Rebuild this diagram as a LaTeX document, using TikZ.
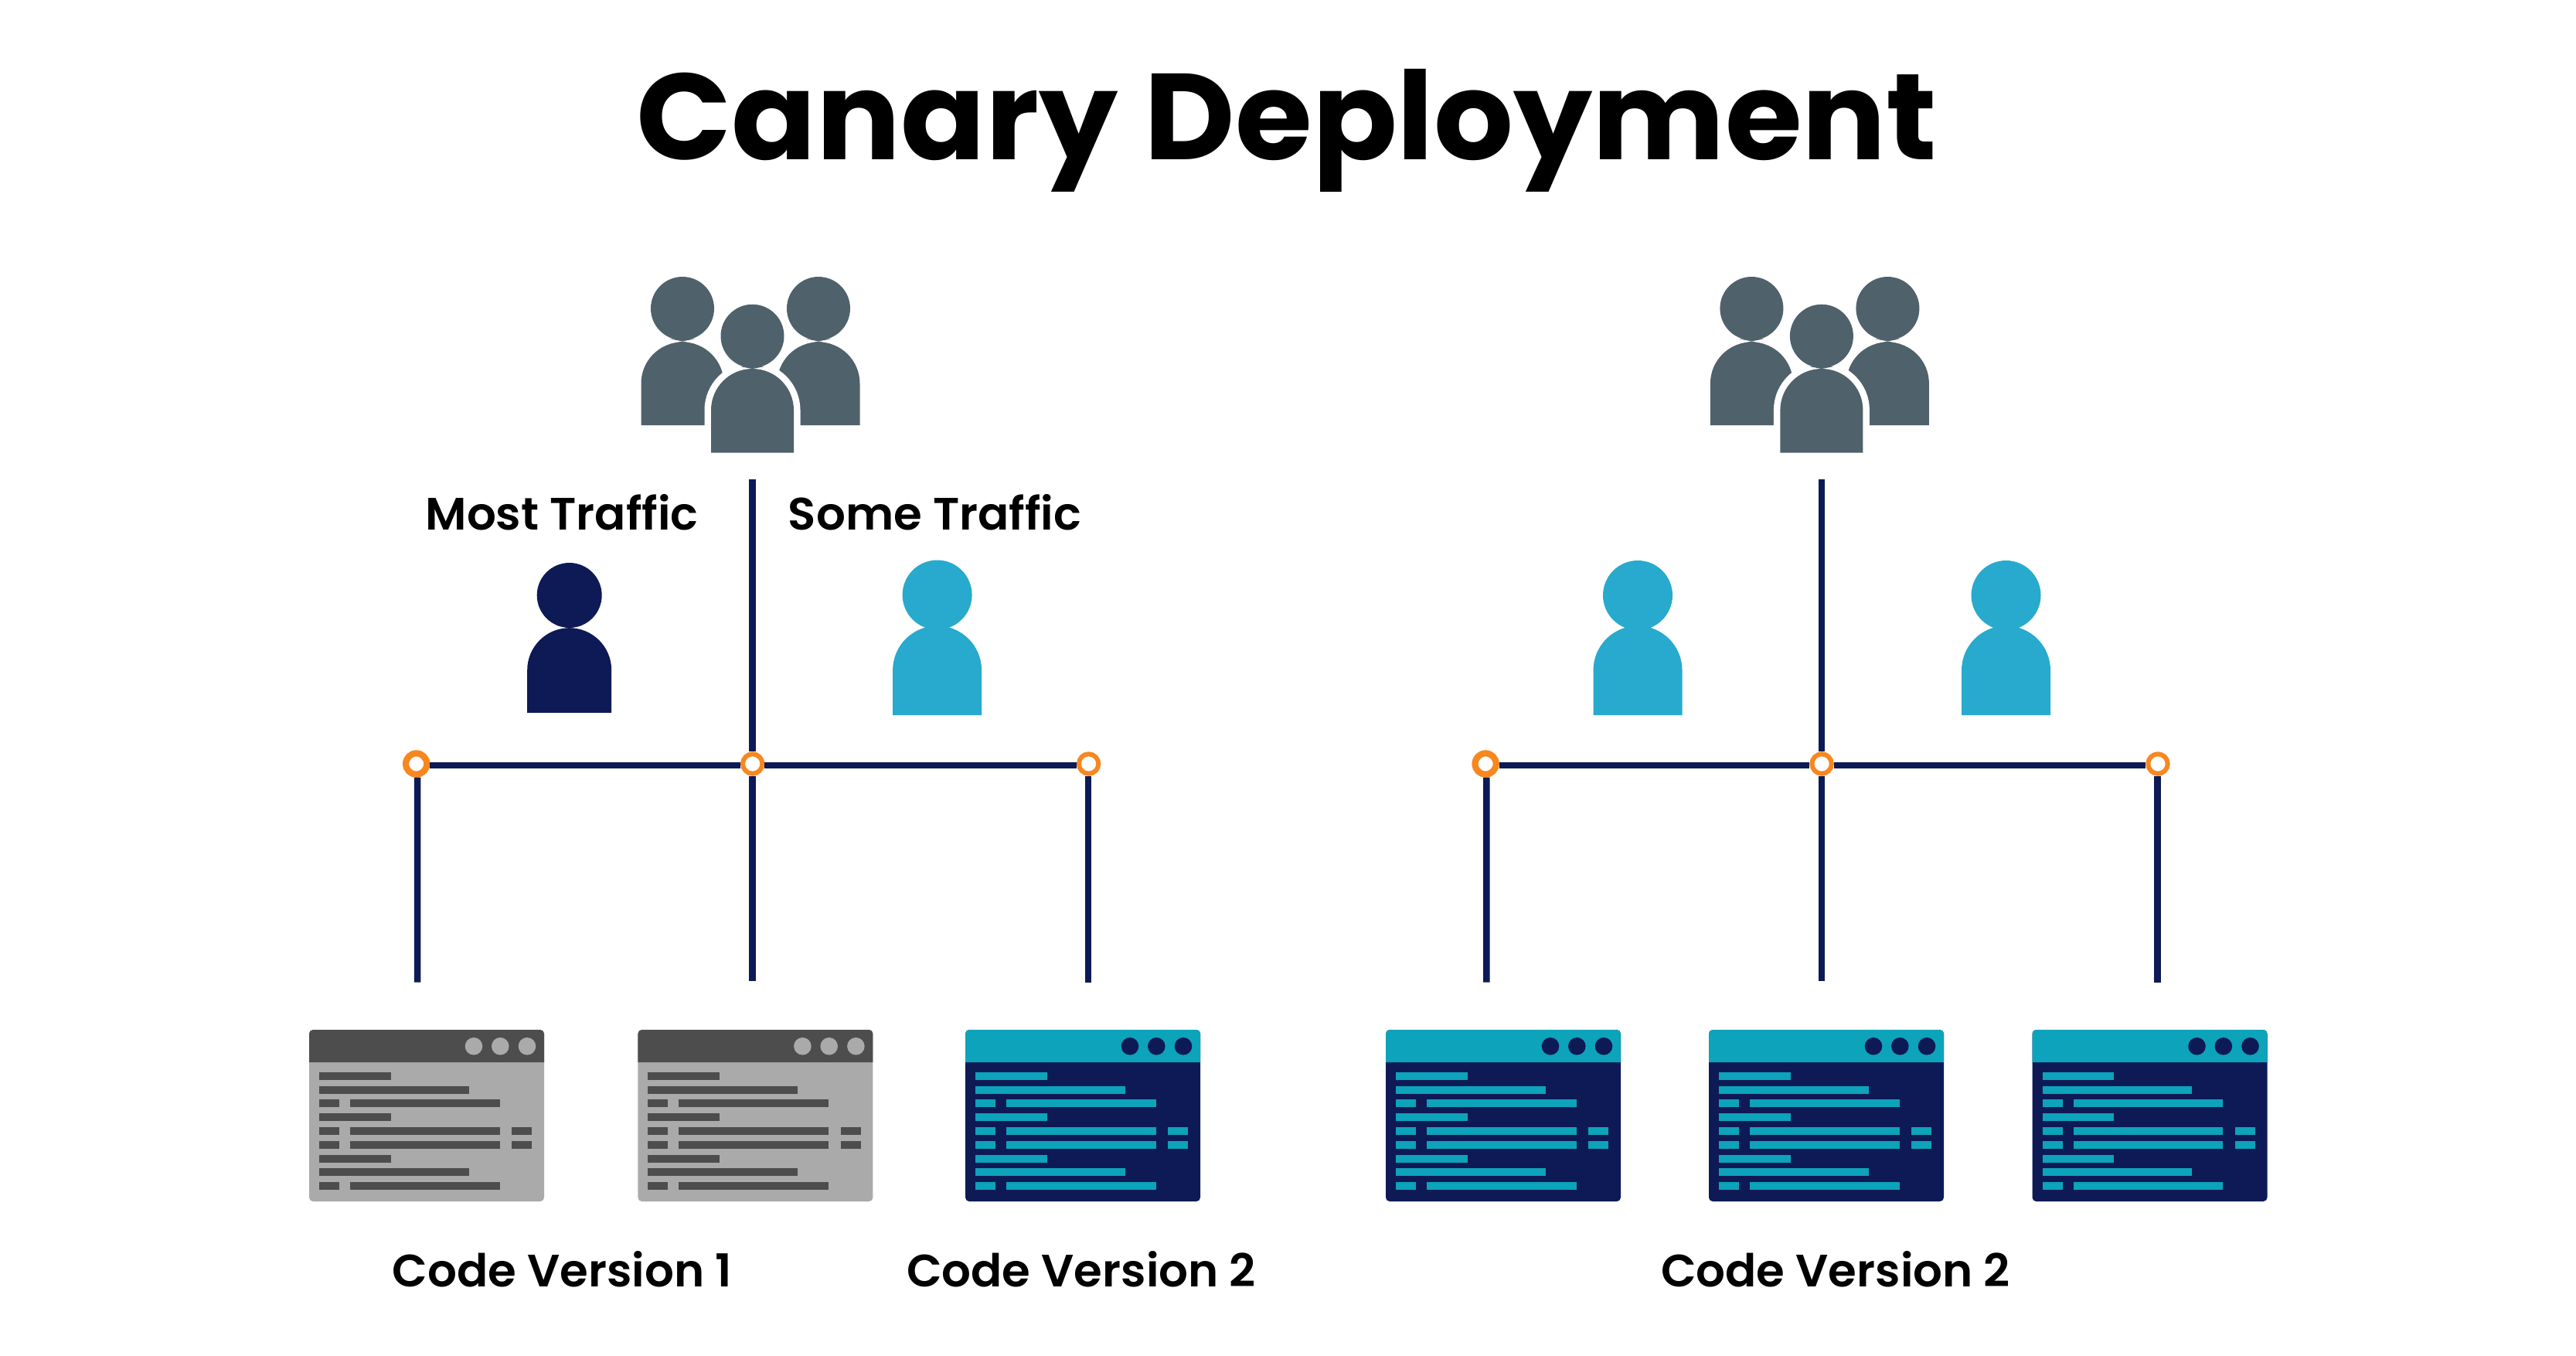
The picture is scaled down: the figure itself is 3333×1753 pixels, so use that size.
\documentclass[tikz,border=0pt]{standalone}
\usepackage{fontspec}
\setmainfont{Poppins}
\newfontfamily\titlefont{Poppins}[UprightFont=* Bold,FakeStretch=1.022]
\newfontfamily\labelfont{Poppins}[UprightFont=* SemiBold,FakeStretch=1.012]
\usepackage{xcolor}

\definecolor{wirenavy}{HTML}{0E1A55}
\definecolor{ringorange}{HTML}{F7871F}
\definecolor{crowdslate}{HTML}{4F616B}
\definecolor{usercyan}{HTML}{27AACD}
\definecolor{headteal}{HTML}{0DA3BA}
\definecolor{headgrey}{HTML}{4D4D4D}
\definecolor{bodygrey}{HTML}{AAAAAA}

% x, head y, head radius, neck y, half width, shoulder y, foot y, colour
\newcommand{\person}[8]{
    \fill[#8] (#1,#2) circle [radius=#3];
    \fill[#8] (#1-16,#4-3) -- (#1,#4) -- (#1+16,#4-3) -- cycle;
    \fill[#8] (#1-16,#4+3.6) -- (#1,#4) -- (#1+16,#4+3.6) -- cycle;
    \fill[#8] (#1-#5,#7) -- (#1-#5,#6) arc [start angle=180,end angle=360,radius=#5] -- (#1+#5,#7) -- cycle;
}

% left x, head colour, body colour
\newcommand{\codewin}[3]{
    \fill[#3,rounded corners=.05cm] (#1,1332) rectangle (#1+304,1554);
    \fill[#2] (#1,1374) {[rounded corners=.05cm] -- (#1,1332) -- (#1+304,1332)} -- (#1+304,1374) -- cycle;
    \foreach \dotx in {213,247.3,282} {
        \fill[#3] (#1+\dotx,1353.3) circle [radius=11.3];
    }
    \foreach \row in {0,3,6} {
        \fill[#2] (#1+13,1386.7+17.8*\row) rectangle (#1+105.7,1396.7+17.8*\row);
    }
    \foreach \row in {1,7} {
        \fill[#2] (#1+13,1386.7+17.8*\row) rectangle (#1+206.7,1396.7+17.8*\row);
    }
    \foreach \row in {2,4,5,8} {
        \fill[#2] (#1+13,1386.7+17.8*\row) rectangle (#1+39,1396.7+17.8*\row);
        \fill[#2] (#1+53,1386.7+17.8*\row) rectangle (#1+246.7,1396.7+17.8*\row);
    }
    \foreach \row in {4,5} {
        \fill[#2] (#1+262.3,1386.7+17.8*\row) rectangle (#1+288.3,1396.7+17.8*\row);
    }
}

\begin{document}
\begin{tikzpicture}[x=0.01cm,y=-0.01cm,
    wire/.style={draw=wirenavy,line width=0.085cm},
    ring/.style={circle,draw=ringorange,fill=white,line width=0.06cm,minimum size=0.254cm,inner sep=0},
    bigring/.style={ring,line width=0.082cm,minimum size=0.272cm},
    label/.style={font=\labelfont\fontsize{16.7}{20}\selectfont,inner sep=0,anchor=base}
]
\useasboundingbox (0,0) rectangle (3333,1753);

\node[font=\titlefont\fontsize{45}{54}\selectfont,inner sep=0,anchor=base] (title) at (1665,206.7) {Canary Deployment};

% one side, the other is the same moved right
\foreach \side/\dx in {a/0,b/13.826} {
\begin{scope}[xshift=\dx cm]
    % crowd
    \person{883}{399}{41}{441.4}{53.5}{496}{550}{crowdslate}
    \person{1059}{399}{41}{441.4}{53.5}{496}{550}{crowdslate}
    \draw[white,line width=0.17cm] (920,586) -- (920,530.5) arc [start angle=180,end angle=360,radius=53.5] -- (1027,586) -- cycle;
    \person{973.5}{434.7}{41}{477}{53.5}{530.5}{585.6}{crowdslate}

    \node[ring] (\side top) at (973.7,988) {};
    \node[bigring] (\side left) at (538.7,988) {};
    \node[ring] (\side right) at (1408.6,988) {};

    \coordinate (\side in) at (973.7,620.4);
    \coordinate (\side outl) at (540,1270.7);
    \coordinate (\side outm) at (973.7,1269.3);
    \coordinate (\side outr) at (1408.2,1270.7);

    \draw[wire] (\side in) -- (\side top.north);
    \draw[wire] ([yshift=-.02cm]\side left.east) -- ([yshift=-.02cm]\side top.west);
    \draw[wire] ([yshift=-.02cm]\side top.east) -- ([yshift=-.02cm]\side right.west);
    \draw[wire] ([xshift=.013cm]\side left.south) -- (\side outl);
    \draw[wire] (\side top.south) -- (\side outm);
    \draw[wire] ([xshift=-.004cm]\side right.south) -- (\side outr);
\end{scope}
}

% users
\person{736.7}{770}{42}{812}{54.5}{866.7}{922}{wirenavy}
\person{1212.6}{769.5}{45}{812}{57.5}{867}{925}{usercyan}
\person{2119}{770}{45}{812}{57.5}{867}{925}{usercyan}
\person{2595.5}{770}{45}{812}{57.5}{867}{925}{usercyan}

\node[label] (most) at (727,685) {Most Traffic};
\node[label] (some) at (1209.5,685) {Some Traffic};

% windows
\foreach \winx in {400,825.4} {
    \codewin{\winx}{headgrey}{bodygrey}
}
\foreach \winx in {1249,1793,2211,2629.5} {
    \codewin{\winx}{headteal}{wirenavy}
}

\node[label] (verone) at (727.5,1664) {Code Version 1};
\node[label] (vertwo) at (1399,1664) {Code Version 2};
\node[label] (verall) at (2375,1664) {Code Version 2};

\end{tikzpicture}
\end{document}
